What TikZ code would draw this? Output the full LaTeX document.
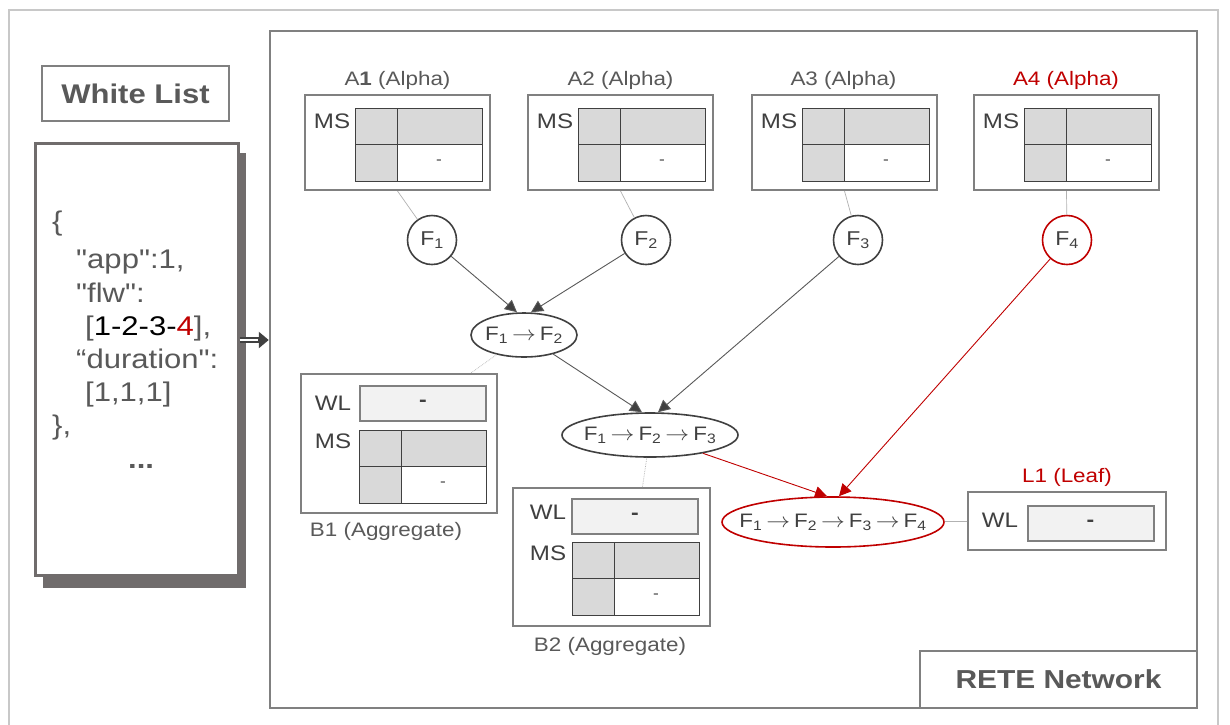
\documentclass[tikz,border=0pt]{standalone}
\usepackage{fontspec}
\setmainfont{Liberation Sans}[FakeStretch=1.15]
\newfontfamily\plainsans{Liberation Sans}[FakeStretch=1.15]
\usetikzlibrary{arrows.meta,shapes.geometric,positioning}
\definecolor{TextGray}{RGB}{89,89,89}
\definecolor{BoxGray}{RGB}{128,128,128}
\definecolor{LineDark}{RGB}{64,64,64}
\definecolor{CellGray}{RGB}{217,217,217}
\definecolor{FieldGray}{RGB}{242,242,242}
\definecolor{FrameGray}{RGB}{200,200,200}
\definecolor{ShadowGray}{RGB}{112,108,108}
\definecolor{RuleRed}{RGB}{192,0,0}
\newcommand{\sz}[1]{\fontsize{#1}{#1}\selectfont}
\newcommand{\qt}{{\plainsans\symbol{34}}}
\newcommand{\farr}{\hspace{4pt}\scalebox{1.15}[1]{$\rightarrow$}\hspace{4pt}}
% memory table: left x, top y, name
\newcommand{\mstable}[3]{%
  \begin{scope}[shift={(#1,#2)}]
    \fill[CellGray] (0,0) rectangle (127,36.5) (0,36.5) rectangle (42,73);
    \draw[LineDark,line width=1pt] (0,0) rectangle (127,73) (42,0) -- (42,73) (0,36.5) -- (127,36.5);
    \node[text=LineDark,font=\sz{15}] (#3dash) at (84,54) {-};
  \end{scope}}

\begin{document}
\begin{tikzpicture}[x=1pt,y=-1pt,
  box/.style={draw=BoxGray,line width=2pt,fill=white,inner sep=0pt},
  tabtxt/.style={text=LineDark,font=\sz{21},inner sep=0pt},
  lbl/.style={text=TextGray,font=\sz{19.5}},
  wlfield/.style={draw=BoxGray,line width=2pt,fill=FieldGray,minimum width=126pt,minimum height=35pt,font=\bfseries\sz{20},text=LineDark},
  fnode/.style={circle,draw=LineDark,line width=1.6pt,fill=white,minimum size=49pt,inner sep=0pt,font=\sz{20},text=LineDark},
  fchain/.style={ellipse,draw=LineDark,line width=1.6pt,fill=white,inner sep=0pt,font=\sz{19.5},text=LineDark},
  arr/.style={draw=TextGray,line width=0.9pt,-{Triangle[length=12pt,width=12pt,fill=LineDark]}},
  redarr/.style={draw=RuleRed,line width=0.9pt,-{Triangle[length=12pt,width=12pt]}},
  link/.style={draw=gray!60,line width=0.7pt}]
\useasboundingbox (0,0) rectangle (1230,724);
\draw[FrameGray,line width=1.5pt] (9,730) -- (9,10) -- (1218,10) -- (1218,730);

% RETE network frame
\node[box,line width=2.5pt,minimum width=927pt,minimum height=677pt] (rete) at (733.5,369.5) {};
\node[box,minimum width=277pt,minimum height=57pt,font=\bfseries\sz{26},text=TextGray] (retelabel) at (1058.5,679.5) {RETE Network};

% white list
\node[box,minimum width=187pt,minimum height=55pt,font=\bfseries\sz{27},text=TextGray] (wltitle) at (135.5,93.5) {White List};
\fill[ShadowGray] (43,153) rectangle (246,588);
\node[box,draw=ShadowGray,line width=3pt,minimum width=203pt,minimum height=432pt] (json) at (136.5,359) {};
\node[anchor=north west,align=left,inner sep=0pt,text=TextGray,font=\fontsize{27}{33.2}\selectfont] (jsontext) at (52,211)
  {\{\\[5pt]
   \hspace*{24pt}\qt app\qt:1,\\
   \hspace*{24pt}\qt flw\qt:\\
   \hspace*{33pt}[\textcolor{black}{1-2-3-}\textcolor{RuleRed}{4}],\\
   \hspace*{24pt}“duration\qt:\\
   \hspace*{33pt}[1,1,1]\\
   \},\\
   \hspace*{76pt}\textbf{...}};
\coordinate (feed) at ([yshift=19pt]json.east);
\draw[LineDark,line width=6pt,-{Triangle[length=10pt,width=16pt]}] (feed) -- (feed -| rete.west);
\draw[white,line width=2pt,shorten >=11pt] (feed) -- (feed -| rete.west);

% alpha nodes
\foreach \i/\x in {1/305,2/528,3/752,4/974}{
  \node[box,minimum width=185pt,minimum height=95pt] (a\i) at (\x+92.5,142.5) {};
  \node[tabtxt] (a\i ms) at (\x+27,121) {MS};
  \mstable{\x+50}{108}{a\i}
}
\node[lbl] (a1lbl) at (397.5,80) {A\textbf{1} (Alpha)};
\node[lbl] (a2lbl) at (620.5,80) {A2 (Alpha)};
\node[lbl] (a3lbl) at (843.5,80) {A3 (Alpha)};
\node[lbl,text=RuleRed] (a4lbl) at (1066,80) {A4 (Alpha)};

\node[fnode] (f1) at (432,240) {F\textsubscript{1}};
\node[fnode] (f2) at (646,240) {F\textsubscript{2}};
\node[fnode] (f3) at (858,240) {F\textsubscript{3}};
\node[fnode,draw=RuleRed] (f4) at (1067,240) {F\textsubscript{4}};
\draw[link] (a1.south) -- (f1);
\draw[link] (a2.south) -- (f2);
\draw[link] (a3.south) -- (f3);
\draw[link] (a4.south) -- (f4);

% joins
\node[fchain,minimum width=106pt,minimum height=44pt] (e12) at (524,335) {\makebox[0pt]{F\textsubscript{1}\farr F\textsubscript{2}}};
\node[fchain,minimum width=176pt,minimum height=44pt] (e123) at (650,435) {\makebox[0pt]{F\textsubscript{1}\farr F\textsubscript{2}\farr F\textsubscript{3}}};
\node[fchain,draw=RuleRed,minimum width=222pt,minimum height=50pt] (e1234) at (833,522) {\makebox[0pt]{F\textsubscript{1}\farr F\textsubscript{2}\farr F\textsubscript{3}\farr F\textsubscript{4}}};
\draw[arr] (f1) -- ([xshift=-7pt]e12.north);
\draw[arr] (f2) -- ([xshift=7pt]e12.north);
\draw[arr] (e12) -- ([xshift=-8pt]e123.north);
\draw[arr] (f3) -- ([xshift=8pt]e123.north);
\draw[redarr] (e123) -- ([xshift=-6pt]e1234.north);
\draw[redarr] (f4) -- ([xshift=6pt]e1234.north);

% aggregate nodes
\node[box,minimum width=196pt,minimum height=139pt] (b1) at (399,443.5) {};
\node[tabtxt] (b1wl) at (333,403) {WL};
\node[wlfield] (b1field) at (423,403.5) {-};
\node[tabtxt] (b1ms) at (333,441) {MS};
\mstable{359}{430}{b1}
\node[lbl] (b1lbl) at (386,531) {B1 (Aggregate)};

\node[box,minimum width=197pt,minimum height=138pt] (b2) at (611.5,557) {};
\node[tabtxt] (b2wl) at (548,512) {WL};
\node[wlfield] (b2field) at (635,516) {-};
\node[tabtxt] (b2ms) at (548,553) {MS};
\mstable{572}{542}{b2}
\node[lbl] (b2lbl) at (610,646) {B2 (Aggregate)};

\draw[link,densely dotted] (e12) -- ([xshift=-27pt]b1.north east);
\draw[link,densely dotted] (e123) -- ([xshift=31pt]b2.north);

% leaf
\node[box,minimum width=198pt,minimum height=58pt] (l1) at (1067,521) {};
\node[tabtxt] (l1wl) at (1000,520) {WL};
\node[wlfield] (l1field) at (1090.5,523) {-};
\node[lbl,text=RuleRed] (l1lbl) at (1067,477) {L1 (Leaf)};
\draw[link] (e1234) -- (l1);
\end{tikzpicture}
\end{document}
